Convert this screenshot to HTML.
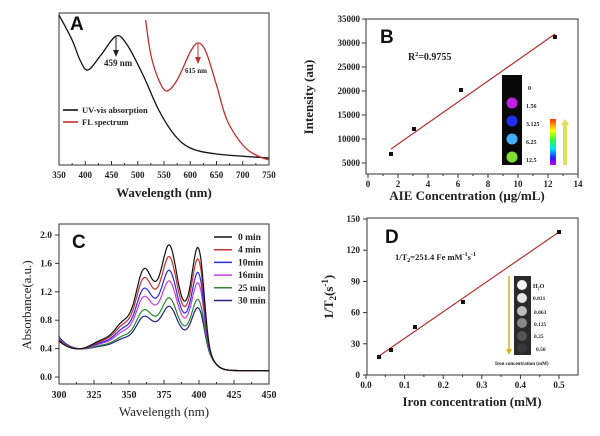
<!DOCTYPE html>
<html><head><meta charset="utf-8"><style>
html,body{margin:0;padding:0;background:#fff;}
svg{display:block;font-family:"Liberation Serif",serif;}
.t{font-size:9px;font-weight:bold;fill:#222;}
.lab{font-size:13px;font-weight:bold;fill:#222;}
</style></head><body>
<svg id="s" width="600" height="436" viewBox="0 0 600 436" xmlns="http://www.w3.org/2000/svg">
<defs>
<linearGradient id="cb" x1="0" y1="1" x2="0" y2="0">
<stop offset="0" stop-color="#d000ff"/><stop offset="0.15" stop-color="#2020ff"/><stop offset="0.35" stop-color="#00e0ff"/><stop offset="0.55" stop-color="#30ff30"/><stop offset="0.75" stop-color="#ffff00"/><stop offset="1" stop-color="#ff3000"/>
</linearGradient>
</defs>
<rect x="59" y="13" width="210" height="152" fill="none" stroke="#333" stroke-width="1"/>
<g id="ta"></g>
<text x="70" y="30" font-family="Liberation Sans" font-weight="bold" font-size="19" fill="#111">A</text>
<path id="ab" fill="none" stroke="#111" stroke-width="1.3"/>
<path id="ar" fill="none" stroke="#c03030" stroke-width="1.3"/>
<line x1="116" y1="37" x2="116" y2="53" stroke="#222" stroke-width="1"/><polygon points="113,50 119,50 116,57" fill="#222"/>
<text x="104" y="66" class="t" font-size="7">459 nm</text>
<line x1="198" y1="44" x2="198" y2="60" stroke="#c03030" stroke-width="1"/><polygon points="195,57 201,57 198,64" fill="#c03030"/>
<text x="185" y="73" class="t" font-size="7" style="font-size:7px">615 nm</text>
<line x1="63" y1="110" x2="78" y2="110" stroke="#111" stroke-width="1.6"/>
<text x="82" y="113" class="t" style="font-size:8.5px">UV-vis absorption</text>
<line x1="63" y1="122" x2="78" y2="122" stroke="#c03030" stroke-width="1.6"/>
<text x="82" y="125" class="t" style="font-size:8.5px">FL spectrum</text>
<text x="164" y="197" text-anchor="middle" class="lab">Wavelength (nm)</text>

<rect x="366" y="19" width="212" height="155" fill="none" stroke="#333" stroke-width="1"/>
<g id="tb"></g>
<text x="380" y="43" font-family="Liberation Sans" font-weight="bold" font-size="19" fill="#111">B</text>
<text x="408" y="60" class="t" style="font-size:10px">R<tspan dy="-4" style="font-size:6px">2</tspan><tspan dy="4">=0.9755</tspan></text>
<line x1="391" y1="149" x2="555" y2="34" stroke="#b03030" stroke-width="1.2"/>
<rect x="389" y="152" width="4" height="4" fill="#111"/><rect x="412" y="127" width="4" height="4" fill="#111"/><rect x="459" y="88" width="4" height="4" fill="#111"/><rect x="553" y="35" width="4" height="4" fill="#111"/>
<rect x="502" y="75" width="20" height="90" fill="#080808"/>
<circle cx="512" cy="103" r="5.5" fill="#c020e0"/><circle cx="512" cy="121" r="5.5" fill="#2030f0"/><circle cx="512" cy="139" r="5.5" fill="#40b0ff"/><circle cx="512" cy="157" r="5.5" fill="#80e030"/>
<g class="t" style="font-size:6px"><text x="528" y="90" style="font-size:6px">0</text><text x="526" y="108" style="font-size:6px">1.56</text><text x="526" y="126" style="font-size:6px">3.125</text><text x="526" y="144" style="font-size:6px">6.25</text><text x="526" y="162" style="font-size:6px">12.5</text></g>
<rect x="550" y="119" width="6" height="46" fill="url(#cb)"/>
<rect x="563" y="124" width="4" height="41" fill="#e0e060"/><polygon points="561,125 569,125 565,119" fill="#e0e060"/>
<text x="467" y="200" text-anchor="middle" class="lab">AIE Concentration (μg/mL)</text>
<text transform="translate(313,97) rotate(-90)" text-anchor="middle" class="lab">Intensity (au)</text>

<rect x="59" y="224" width="210" height="160" fill="none" stroke="#333" stroke-width="1"/>
<g id="tc"></g>
<text x="72" y="248" font-family="Liberation Sans" font-weight="bold" font-size="19" fill="#111">C</text>
<g id="cc"></g>
<g id="lc"></g>
<text x="164" y="416" text-anchor="middle" font-size="13" fill="#222">Wavelength (nm)</text>
<text transform="translate(31,305) rotate(-90)" text-anchor="middle" font-size="13" fill="#222">Absorbance(a.u.)</text>

<rect x="367" y="218" width="211" height="157" fill="none" stroke="#333" stroke-width="1"/>
<g id="td"></g>
<text x="385" y="243" font-family="Liberation Sans" font-weight="bold" font-size="19" fill="#111">D</text>
<text x="395" y="260" class="t" style="font-size:8.5px">1/T<tspan dy="2" style="font-size:6px">2</tspan><tspan dy="-2">=251.4 Fe mM</tspan><tspan dy="-4" style="font-size:6px">-1</tspan><tspan dy="4">s</tspan><tspan dy="-4" style="font-size:6px">-1</tspan></text>
<line x1="379" y1="356" x2="559" y2="232" stroke="#b03030" stroke-width="1.2"/>
<rect x="377" y="355" width="4" height="4" fill="#111"/><rect x="389" y="348" width="4" height="4" fill="#111"/><rect x="413" y="325" width="4" height="4" fill="#111"/><rect x="461" y="300" width="4" height="4" fill="#111"/><rect x="557" y="230" width="4" height="4" fill="#111"/>
<rect x="514" y="276" width="17" height="79" fill="#2a2a2a"/>
<circle cx="522" cy="285" r="5" fill="#f4f4f4"/><circle cx="522" cy="298" r="5" fill="#e6e6e6"/><circle cx="522" cy="311" r="5" fill="#bbb"/><circle cx="522" cy="323" r="5" fill="#888"/><circle cx="522" cy="336" r="5" fill="#555"/><circle cx="522" cy="348" r="5" fill="#383838"/>
<g class="t"><text x="533" y="288" style="font-size:6px">H<tspan dy="1.5" style="font-size:4px">2</tspan><tspan dy="-1.5">O</tspan></text><text x="533" y="300" style="font-size:5.5px">0.031</text><text x="534" y="314" style="font-size:5.5px">0.063</text><text x="534" y="326" style="font-size:5.5px">0.125</text><text x="534" y="338" style="font-size:5.5px">0.25</text><text x="536" y="351" style="font-size:5.5px">0.50</text>
<text x="495" y="365" style="font-size:5px">Iron concentration (mM)</text></g>
<line x1="509" y1="276" x2="509" y2="350" stroke="#e0b020" stroke-width="1.5"/><polygon points="506,349 512,349 509,355" fill="#e0b020"/>
<text x="472" y="406" text-anchor="middle" class="lab">Iron concentration (mM)</text>
<text transform="translate(333,297) rotate(-90)" text-anchor="middle" class="lab">1/T<tspan dy="3" style="font-size:9px">2</tspan><tspan dy="-3">(s</tspan><tspan dy="-5" style="font-size:9px">-1</tspan><tspan dy="5">)</tspan></text>
</svg>
<script>
var NS="http://www.w3.org/2000/svg";
function el(p,t,a,txt){var e=document.createElementNS(NS,t);for(var k in a)e.setAttribute(k,a[k]);if(txt!=null)e.textContent=txt;document.getElementById(p).appendChild(e);return e;}
function smooth(pts){var d="M"+pts[0][0]+","+pts[0][1];for(var i=0;i<pts.length-1;i++){var p0=pts[i-1]||pts[i],p1=pts[i],p2=pts[i+1],p3=pts[i+2]||p2;d+=" C"+(p1[0]+(p2[0]-p0[0])/6).toFixed(1)+","+(p1[1]+(p2[1]-p0[1])/6).toFixed(1)+" "+(p2[0]-(p3[0]-p1[0])/6).toFixed(1)+","+(p2[1]-(p3[1]-p1[1])/6).toFixed(1)+" "+p2[0]+","+p2[1];}return d;}
function ax(l){return 59+(l-350)*0.525;}
var B=[[350,15],[375,40],[390,60],[405,70],[430,55],[459,36],[480,45],[510,75],[540,110],[570,135],[600,148],[650,154],[750,158]];
var R=[[515,20],[525,55],[540,80],[555,91],[575,80],[600,52],[615,43],[630,52],[650,85],[670,120],[700,145],[725,155],[750,160]];
document.getElementById("ab").setAttribute("d",smooth(B.map(p=>[ax(p[0]),p[1]])));
document.getElementById("ar").setAttribute("d",smooth(R.map(p=>[ax(p[0]),p[1]])));
for(var l=350;l<=750;l+=50){var x=ax(l);el("ta","line",{x1:x,y1:165,x2:x,y2:161,stroke:"#333"});el("ta","text",{x:x,y:178,"text-anchor":"middle","class":"t"},l);}
for(var l=375;l<750;l+=50){var x=ax(l);el("ta","line",{x1:x,y1:165,x2:x,y2:163,stroke:"#333"});}
for(var v=0;v<=14;v+=2){var x=368+v*15;el("tb","line",{x1:x,y1:174,x2:x,y2:178,stroke:"#333"});el("tb","text",{x:x,y:187,"text-anchor":"middle","class":"t"},v);}
for(var v=1;v<14;v+=2){var x=368+v*15;el("tb","line",{x1:x,y1:174,x2:x,y2:176,stroke:"#333"});}
for(var v=5000;v<=35000;v+=5000){var y=163-(v-5000)/5000*24;el("tb","line",{x1:366,y1:y,x2:362,y2:y,stroke:"#333"});el("tb","text",{x:360,y:y+3,"text-anchor":"end","class":"t"},v);}
function cx(l){return 59+(l-300)*1.4;} function cy(a){return 377-a*71;}
for(var l=300;l<=450;l+=25){var x=cx(l);el("tc","line",{x1:x,y1:384,x2:x,y2:380,stroke:"#333"});el("tc","text",{x:x,y:398,"text-anchor":"middle","class":"t","style":"font-size:10px"},l);}
for(var l=312.5;l<450;l+=25){el("tc","line",{x1:cx(l),y1:384,x2:cx(l),y2:382,stroke:"#333"});}
for(var a=0;a<=2.0001;a+=0.4){var y=cy(a);el("tc","line",{x1:59,y1:y,x2:55,y2:y,stroke:"#333"});el("tc","text",{x:52,y:y+3,"text-anchor":"end","class":"t","style":"font-size:9.5px"},a.toFixed(1));}
var cols=["#111","#c83030","#2a2ae0","#c040e0","#2a8a2a","#202080"],sc=[1,0.89,0.76,0.66,0.5,0.42],st=[0.52,0.53,0.54,0.55,0.56,0.58],names=["0 min","4 min","10min","16min","25 min","30 min"];
function g(l,c,w){return Math.exp(-Math.pow((l-c)/w,2));}
for(var k=5;k>=0;k--){var pts=[];for(var l=300;l<=450;l+=0.75){var G=0.15*g(l,330,12)+0.2*g(l,345,8)+0.85*g(l,374,24)+0.55*g(l,360,7)+0.68*g(l,379,6.5)+1.25*g(l,400,6.5);G*=1/(1+Math.exp((l-406)/2));var bg=0.09+0.28/(1+Math.exp((l-410)/3))+(st[k]-0.38)*Math.exp(-(l-300)/7);var a=bg+sc[k]*G*(1-Math.exp(-Math.max(0,l-310)/12));pts.push([cx(l).toFixed(1),cy(a).toFixed(1)]);}
el("cc","polyline",{points:pts.map(p=>p.join(",")).join(" "),fill:"none",stroke:cols[k],"stroke-width":1.2});}
for(var k=0;k<6;k++){var y=240+k*12.7;el("lc","line",{x1:214,y1:y-3,x2:232,y2:y-3,stroke:cols[k],"stroke-width":1.5});el("lc","text",{x:238,y:y,"class":"t","style":"font-size:9.5px"},names[k]);}
for(var i=0;i<=5;i++){var x=366+i*38.6;el("td","line",{x1:x,y1:375,x2:x,y2:379,stroke:"#333"});el("td","text",{x:x,y:388,"text-anchor":"middle","class":"t"},(i/10).toFixed(1));}
for(var i=0;i<5;i++){var x=366+(i+0.5)*38.6;el("td","line",{x1:x,y1:375,x2:x,y2:377,stroke:"#333"});}
for(var v=0;v<=150;v+=30){var y=375-v*1.04;el("td","line",{x1:367,y1:y,x2:363,y2:y,stroke:"#333"});el("td","text",{x:360,y:y+3,"text-anchor":"end","class":"t"},v);}
</script>
</body></html>
